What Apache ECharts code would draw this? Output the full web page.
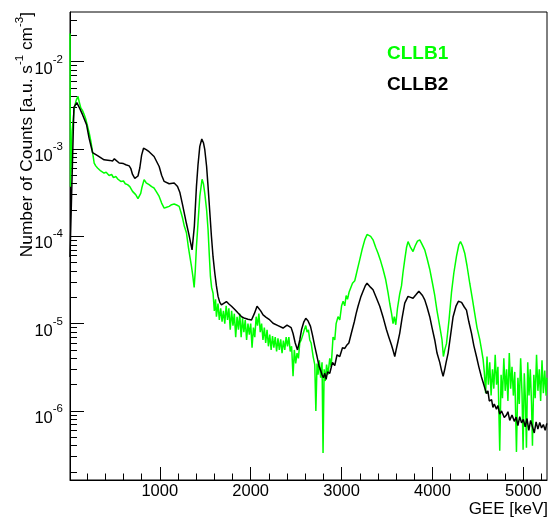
<!DOCTYPE html>
<html>
<head>
<meta charset="utf-8">
<script src="https://cdn.jsdelivr.net/npm/echarts@6/dist/echarts.min.js"></script>
<style>
html, body { margin: 0; padding: 0; background: #fff; }
#main { width: 549px; height: 518px; }
</style>
</head>
<body>
<div id="main"></div>
<script>
// [energy keV, counts a.u. s^-1 cm^-3]
var cllb1 = [
    [12, 2.1e-2], [17, 3.7e-4], [35, 1.6e-3], [60, 3.0e-3], [80, 3.6e-3], [100, 4.0e-3], [115, 3.4e-3],
    [131, 2.95e-3], [150, 2.75e-3], [167, 2.5e-3], [185, 2.2e-3], [205, 1.82e-3], [225, 1.5e-3], [241, 1.23e-3],
    [255, 1.0e-3], [267, 8.2e-4], [278, 6.9e-4], [295, 6.4e-4], [315, 6.05e-4], [350, 5.6e-4], [387, 5.3e-4],
    [410, 5.4e-4], [442, 4.97e-4], [470, 5.1e-4], [490, 4.7e-4], [516, 4.84e-4], [540, 4.5e-4], [571, 4.25e-4],
    [600, 4.3e-4], [620, 4.0e-4], [645, 3.9e-4], [670, 3.7e-4], [700, 3.27e-4], [735, 3.0e-4], [760, 2.7e-4],
    [772, 2.62e-4], [790, 3.1e-4], [802, 3.57e-4], [827, 4.45e-4], [850, 4.1e-4], [882, 3.9e-4], [910, 3.7e-4],
    [937, 3.57e-4], [965, 3.2e-4], [993, 2.86e-4], [1020, 2.4e-4], [1048, 2.1e-4], [1075, 2.15e-4], [1103, 2.2e-4],
    [1130, 2.3e-4], [1158, 2.34e-4], [1185, 2.28e-4], [1213, 2.2e-4], [1235, 1.85e-4], [1250, 1.62e-4], [1270, 1.3e-4],
    [1293, 1.1e-4], [1316, 7.3e-5], [1335, 5.5e-5], [1349, 4.5e-5], [1365, 3.4e-5], [1378, 2.6e-5], [1390, 4.0e-5],
    [1403, 7.6e-5], [1420, 1.4e-4], [1440, 2.86e-4], [1465, 4.5e-4], [1480, 4.0e-4], [1495, 3.1e-4], [1515, 2.0e-4],
    [1531, 1.19e-4], [1545, 6.0e-5], [1557, 3.47e-5], [1570, 2.6e-5], [1586, 2.23e-5], [1600, 1.4e-5], [1613, 1.9e-5],
    [1623, 1.2e-5], [1640, 1.7e-5], [1655, 1.1e-5], [1670, 1.5e-5], [1685, 1.05e-5], [1700, 1.4e-5], [1715, 1.0e-5],
    [1730, 1.6e-5], [1745, 1.1e-5], [1760, 1.5e-5], [1775, 8.5e-6], [1790, 1.4e-5], [1805, 9.5e-6], [1820, 1.3e-5],
    [1835, 7.0e-6], [1850, 1.2e-5], [1865, 8.5e-6], [1880, 1.3e-5], [1895, 7.0e-6], [1910, 1.15e-5], [1925, 8.0e-6],
    [1940, 1.1e-5], [1955, 6.5e-6], [1970, 1.0e-5], [1985, 7.5e-6], [2000, 1.0e-5], [2015, 5.3e-6], [2030, 9.0e-6],
    [2045, 7.0e-6], [2060, 1.2e-5], [2075, 9.5e-6], [2090, 1.3e-5], [2105, 8.0e-6], [2120, 1.0e-5], [2135, 6.5e-6],
    [2150, 9.0e-6], [2165, 6.0e-6], [2180, 8.5e-6], [2195, 5.5e-6], [2210, 7.5e-6], [2225, 5.0e-6], [2240, 7.2e-6],
    [2255, 5.3e-6], [2270, 7.0e-6], [2285, 4.8e-6], [2300, 6.8e-6], [2315, 5.0e-6], [2330, 6.6e-6], [2345, 4.6e-6],
    [2360, 6.4e-6], [2375, 5.0e-6], [2390, 7.0e-6], [2405, 5.5e-6], [2420, 7.0e-6], [2435, 4.8e-6], [2450, 5.5e-6],
    [2466, 2.5e-6], [2480, 5.0e-6], [2495, 3.5e-6], [2510, 4.6e-6], [2525, 4.0e-6], [2540, 6.0e-6], [2558, 6.6e-6],
    [2575, 7.5e-6], [2590, 8.5e-6], [2606, 9.5e-6], [2620, 8.0e-6], [2635, 8.5e-6], [2650, 6.5e-6], [2665, 6.0e-6],
    [2687, 4.2e-6], [2705, 3.4e-6], [2717, 1.0e-6], [2730, 3.5e-6], [2741, 2.6e-6], [2755, 3.8e-6], [2770, 2.4e-6],
    [2785, 3.6e-6], [2796, 3.3e-7], [2808, 3.0e-6], [2820, 2.2e-6], [2835, 3.4e-6], [2850, 2.6e-6], [2870, 4.0e-6],
    [2885, 3.2e-6], [2906, 7.0e-6], [2925, 6.5e-6], [2940, 1.0e-5], [2961, 1.2e-5], [2980, 1.1e-5], [3000, 1.6e-5],
    [3017, 1.8e-5], [3035, 1.6e-5], [3050, 2.1e-5], [3065, 1.9e-5], [3083, 2.3e-5], [3100, 2.2e-5], [3120, 2.9e-5],
    [3145, 3.1e-5], [3160, 3.6e-5], [3175, 4.2e-5], [3200, 5.4e-5], [3225, 7.0e-5], [3255, 9.1e-5], [3280, 1.05e-4],
    [3302, 1.08e-4], [3320, 1.0e-4], [3346, 9.1e-5], [3375, 7.5e-5], [3401, 6.4e-5], [3430, 5.2e-5], [3456, 4.2e-5],
    [3485, 3.2e-5], [3511, 2.26e-5], [3530, 1.7e-5], [3550, 1.3e-5], [3566, 1.0e-5], [3580, 1.2e-5], [3596, 9.7e-6],
    [3615, 1.5e-5], [3640, 2.2e-5], [3659, 2.7e-5], [3675, 3.8e-5], [3695, 5.4e-5], [3715, 7.5e-5], [3731, 8.7e-5],
    [3745, 8.4e-5], [3760, 7.4e-5], [3786, 6.7e-5], [3810, 7.8e-5], [3835, 8.8e-5], [3860, 9.1e-5], [3880, 8.3e-5],
    [3915, 7.0e-5], [3940, 5.6e-5], [3970, 4.2e-5], [4000, 2.9e-5], [4025, 2.1e-5], [4050, 1.4e-5], [4080, 9.3e-6],
    [4105, 6.5e-6], [4120, 4.2e-6], [4135, 5.0e-6], [4154, 5.9e-6], [4182, 1.1e-5], [4209, 2.26e-5], [4235, 3.8e-5],
    [4264, 5.9e-5], [4290, 8.0e-5], [4308, 8.7e-5], [4330, 7.8e-5], [4355, 6.4e-5], [4380, 4.6e-5], [4410, 2.9e-5],
    [4440, 1.9e-5], [4465, 1.3e-5], [4490, 9.0e-6], [4520, 6.6e-6], [4540, 5.0e-6], [4557, 3.9e-6], [4570, 2.8e-6],
    [4585, 1.6e-6], [4600, 4.2e-6], [4615, 2.0e-6], [4630, 3.6e-6], [4645, 1.5e-6], [4660, 3.0e-6], [4675, 1.8e-6],
    [4690, 4.4e-6], [4705, 2.0e-6], [4720, 3.2e-6], [4740, 3.5e-7], [4755, 2.6e-6], [4770, 1.4e-6], [4785, 4.0e-6],
    [4800, 1.7e-6], [4815, 3.0e-6], [4830, 1.3e-6], [4845, 4.6e-6], [4860, 1.8e-6], [4875, 3.2e-6], [4890, 1.5e-6],
    [4905, 2.8e-6], [4924, 3.4e-7], [4940, 2.4e-6], [4955, 1.2e-6], [4970, 4.0e-6], [4985, 1.6e-6], [4997, 3.6e-7],
    [5010, 2.7e-6], [5022, 1.4e-6], [5034, 3.8e-7], [5048, 3.6e-6], [5062, 1.5e-6], [5076, 3.0e-6], [5090, 1.2e-6],
    [5100, 4.0e-7], [5115, 2.6e-6], [5130, 1.4e-6], [5145, 4.4e-6], [5160, 1.7e-6], [5175, 3.0e-6], [5190, 1.3e-6],
    [5205, 3.8e-6], [5220, 1.6e-6], [5235, 2.9e-6], [5250, 1.5e-6], [5258, 2.4e-6]
];

var cllb2 = [
    [12, 5.8e-5], [55, 3.0e-3], [87, 3.4e-3], [120, 2.9e-3], [150, 2.47e-3], [194, 1.9e-3], [222, 1.33e-3],
    [260, 9.1e-4], [315, 8.4e-4], [387, 7.5e-4], [450, 7.4e-4], [480, 7.3e-4], [500, 7.7e-4], [516, 7.5e-4],
    [553, 6.9e-4], [600, 6.8e-4], [626, 6.6e-4], [663, 6.4e-4], [680, 6.0e-4], [700, 5.1e-4], [725, 4.6e-4],
    [744, 4.37e-4], [760, 4.9e-4], [780, 6.05e-4], [800, 8.5e-4], [821, 1.02e-3], [850, 9.8e-4], [882, 9.3e-4],
    [937, 8.2e-4], [993, 6.3e-4], [1020, 5.0e-4], [1048, 4.25e-4], [1103, 4.0e-4], [1158, 4.07e-4], [1195, 3.72e-4],
    [1220, 3.2e-4], [1250, 2.3e-4], [1293, 1.4e-4], [1320, 1.05e-4], [1355, 7.0e-5], [1380, 1.3e-4], [1403, 3.7e-4],
    [1420, 6.5e-4], [1440, 1.07e-3], [1462, 1.3e-3], [1480, 1.18e-3], [1495, 9.8e-4], [1515, 6.3e-4], [1531, 3.7e-4],
    [1550, 1.9e-4], [1568, 1.0e-4], [1586, 5.8e-5], [1605, 3.8e-5], [1623, 2.7e-5], [1641, 2.05e-5], [1660, 1.75e-5],
    [1678, 1.64e-5], [1700, 1.7e-5], [1733, 1.79e-5], [1760, 1.68e-5], [1789, 1.58e-5], [1825, 1.45e-5], [1861, 1.32e-5],
    [1900, 1.2e-5], [1935, 1.15e-5], [1970, 1.12e-5], [2009, 1.1e-5], [2040, 1.3e-5], [2070, 1.58e-5], [2090, 1.6e-5],
    [2110, 1.4e-5], [2136, 1.26e-5], [2170, 1.18e-5], [2202, 1.12e-5], [2246, 1.01e-5], [2300, 9.5e-6], [2356, 8.9e-6],
    [2400, 9.6e-6], [2422, 1.0e-5], [2445, 9.0e-6], [2466, 7.7e-6], [2490, 6.0e-6], [2515, 5.0e-6], [2540, 6.5e-6],
    [2559, 8.5e-6], [2585, 1.05e-5], [2606, 1.15e-5], [2630, 1.08e-5], [2658, 9.3e-6], [2680, 7.4e-6], [2705, 5.5e-6],
    [2730, 4.2e-6], [2753, 3.24e-6], [2770, 2.9e-6], [2785, 2.6e-6], [2800, 2.4e-6], [2815, 2.7e-6], [2830, 2.3e-6],
    [2845, 2.8e-6], [2870, 2.7e-6], [2900, 3.6e-6], [2925, 3.3e-6], [2950, 4.4e-6], [2980, 4.2e-6], [3010, 5.3e-6],
    [3035, 5.2e-6], [3054, 5.6e-6], [3080, 6.0e-6], [3108, 7.8e-6], [3140, 1.05e-5], [3160, 1.3e-5], [3181, 1.58e-5],
    [3210, 2.0e-5], [3236, 2.35e-5], [3260, 2.7e-5], [3280, 2.9e-5], [3300, 2.8e-5], [3320, 2.6e-5], [3346, 2.44e-5],
    [3380, 2.0e-5], [3420, 1.58e-5], [3460, 1.15e-5], [3494, 8.5e-6], [3520, 7.0e-6], [3549, 5.7e-6], [3570, 4.8e-6],
    [3585, 4.2e-6], [3600, 5.0e-6], [3620, 6.2e-6], [3640, 7.8e-6], [3665, 1.15e-5], [3695, 1.72e-5], [3731, 2.05e-5],
    [3760, 2.0e-5], [3786, 1.95e-5], [3820, 2.15e-5], [3850, 2.35e-5], [3870, 2.3e-5], [3890, 2.1e-5], [3915, 1.87e-5],
    [3940, 1.55e-5], [3970, 1.2e-5], [3995, 9.0e-6], [4025, 6.5e-6], [4050, 4.6e-6], [4080, 3.6e-6], [4100, 2.9e-6],
    [4117, 2.5e-6], [4135, 3.0e-6], [4150, 3.6e-6], [4172, 4.6e-6], [4200, 7.5e-6], [4227, 1.2e-5], [4260, 1.6e-5],
    [4285, 1.8e-5], [4300, 1.86e-5], [4320, 1.75e-5], [4350, 1.55e-5], [4374, 1.43e-5], [4400, 1.05e-5], [4429, 7.8e-6],
    [4455, 5.6e-6], [4484, 4.2e-6], [4510, 3.2e-6], [4539, 2.45e-6], [4565, 2.0e-6], [4594, 1.58e-6], [4610, 1.7e-6],
    [4625, 1.3e-6], [4650, 1.35e-6], [4665, 1.1e-6], [4680, 1.2e-6], [4704, 1.05e-6], [4720, 1.15e-6], [4740, 9.2e-7],
    [4760, 1.0e-6], [4790, 8.4e-7], [4814, 9.0e-7], [4830, 9.8e-7], [4850, 7.8e-7], [4875, 9.0e-7], [4900, 7.6e-7],
    [4920, 8.5e-7], [4940, 6.8e-7], [4960, 8.6e-7], [4980, 7.3e-7], [5000, 8.0e-7], [5020, 6.6e-7], [5040, 8.2e-7],
    [5060, 6.0e-7], [5080, 7.8e-7], [5100, 6.6e-7], [5120, 5.6e-7], [5140, 7.5e-7], [5160, 6.2e-7], [5180, 7.4e-7],
    [5200, 6.4e-7], [5220, 7.0e-7], [5240, 6.0e-7], [5258, 7.2e-7]
];

var xMajorTicks = [1000, 2000, 3000, 4000, 5000];
var xMinorTicks = [200, 400, 600, 800, 1200, 1400, 1600, 1800, 2200, 2400, 2600, 2800,
    3200, 3400, 3600, 3800, 4200, 4400, 4600, 4800, 5200];
var yMajorTicks = [1e-6, 1e-5, 1e-4, 1e-3, 1e-2];
var yMinorTicks = [2e-7, 3e-7, 4e-7, 5e-7, 6e-7, 7e-7, 8e-7, 9e-7,
    2e-6, 3e-6, 4e-6, 5e-6, 6e-6, 7e-6, 8e-6, 9e-6,
    2e-5, 3e-5, 4e-5, 5e-5, 6e-5, 7e-5, 8e-5, 9e-5,
    2e-4, 3e-4, 4e-4, 5e-4, 6e-4, 7e-4, 8e-4, 9e-4,
    2e-3, 3e-3, 4e-3, 5e-3, 6e-3, 7e-3, 8e-3, 9e-3,
    2e-2, 3e-2];

var font = 'Liberation Sans';
var xRange = [12, 5260];
var yRange = [1.62e-7, 0.037];

var myChart = echarts.init(document.getElementById('main'));

var option = {
    backgroundColor: '#fff',
    animation: false,
    grid: {
        left: 70, right: 2, top: 12, bottom: 38,
        show: true, borderColor: '#000', borderWidth: 1, backgroundColor: '#fff'
    },
    legend: {
        orient: 'vertical',
        left: 382, top: 44,
        padding: 0,
        itemGap: 11,
        itemWidth: 0, itemHeight: 0,
        icon: 'rect',
        selectedMode: false,
        textStyle: { fontFamily: font, fontSize: 19, fontWeight: 'bold', lineHeight: 20 },
        data: [
            { name: 'CLLB1', textStyle: { color: '#00ff00' } },
            { name: 'CLLB2', textStyle: { color: '#000000' } }
        ]
    },
    xAxis: [
        {
            type: 'value', min: xRange[0], max: xRange[1],
            axisLine: { show: true, onZero: false, lineStyle: { color: '#000', width: 1 } },
            axisTick: { show: true, inside: true, length: 13, customValues: xMajorTicks, lineStyle: { color: '#000' } },
            axisLabel: {
                customValues: xMajorTicks, margin: 3, color: '#000',
                fontFamily: font, fontSize: 16.5,
                formatter: function (v) { return String(v); }
            },
            splitLine: { show: false }
        },
        {
            type: 'value', min: xRange[0], max: xRange[1], position: 'bottom',
            axisLine: { show: false, onZero: false },
            axisTick: { show: true, inside: true, length: 6.5, customValues: xMinorTicks, lineStyle: { color: '#000' } },
            axisLabel: { show: false },
            splitLine: { show: false }
        }
    ],
    yAxis: [
        {
            type: 'log', logBase: 10, min: yRange[0], max: yRange[1],
            axisLine: { show: true, lineStyle: { color: '#000', width: 1 } },
            axisTick: { show: true, inside: true, length: 14, customValues: yMajorTicks, lineStyle: { color: '#000' } },
            axisLabel: {
                customValues: yMajorTicks, margin: 7, color: '#000',
                padding: [8, 0, 0, 0],
                formatter: function (v) {
                    var e = Math.round(Math.log(v) / Math.LN10);
                    return '{b|10}{s|' + e + '}';
                },
                rich: {
                    b: { fontFamily: font, fontSize: 16.5, lineHeight: 24, verticalAlign: 'bottom', color: '#000' },
                    s: { fontFamily: font, fontSize: 11.5, lineHeight: 12, verticalAlign: 'top', color: '#000' }
                }
            },
            splitLine: { show: false }
        },
        {
            type: 'log', logBase: 10, min: yRange[0], max: yRange[1], position: 'left',
            axisLine: { show: false },
            axisTick: { show: true, inside: true, length: 7, customValues: yMinorTicks, lineStyle: { color: '#000' } },
            axisLabel: { show: false },
            splitLine: { show: false }
        }
    ],
    graphic: [
        {
            type: 'text', x: 25, y: 12, rotation: Math.PI / 2,
            style: {
                text: '{n|Number of Counts [a.u. s}{s|-1}{n| cm}{s|-3}{n|]}',
                align: 'right', verticalAlign: 'middle',
                textAlign: 'right', textVerticalAlign: 'middle',
                fill: '#000',
                rich: {
                    n: { fontFamily: font, fontSize: 17.3, lineHeight: 22, verticalAlign: 'bottom', fill: '#000' },
                    s: { fontFamily: font, fontSize: 11.5, lineHeight: 12, verticalAlign: 'top', fill: '#000' }
                }
            }
        },
        {
            type: 'text', x: 548, y: 509,
            style: {
                text: 'GEE [keV]',
                align: 'right', verticalAlign: 'middle',
                textAlign: 'right', textVerticalAlign: 'middle',
                fill: '#000', font: '17px "Liberation Sans"'
            }
        }
    ],
    series: [
        {
            name: 'CLLB1', type: 'line', data: cllb1,
            xAxisIndex: 0, yAxisIndex: 0,
            symbol: 'none', showSymbol: false,
            lineStyle: { color: '#00ff00', width: 1.5 },
            itemStyle: { color: '#00ff00' }
        },
        {
            name: 'CLLB2', type: 'line', data: cllb2,
            xAxisIndex: 0, yAxisIndex: 0,
            symbol: 'none', showSymbol: false,
            lineStyle: { color: '#000000', width: 1.5 },
            itemStyle: { color: '#000000' }
        }
    ]
};

myChart.setOption(option);
</script>
</body>
</html>
